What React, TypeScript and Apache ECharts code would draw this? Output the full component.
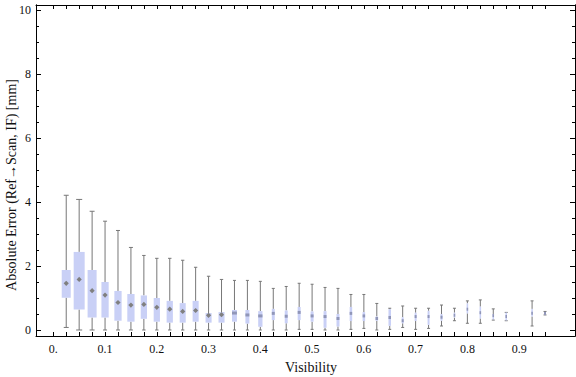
import React, { useEffect, useRef } from "react";
import * as echarts from "echarts";

// Bin centres (visibility)
const visibility = [0.025, 0.05, 0.075, 0.1, 0.125, 0.15, 0.175, 0.2, 0.225, 0.25, 0.275, 0.3, 0.325, 0.35, 0.375, 0.4, 0.425, 0.45, 0.475, 0.5, 0.525, 0.55, 0.575, 0.6, 0.625, 0.65, 0.675, 0.7, 0.725, 0.75, 0.775, 0.8, 0.825, 0.85, 0.875, 0.925, 0.95];
const whiskerLow = [0.08, 0, 0, 0, 0, 0, 0, 0, 0, 0, 0, 0, 0, 0, 0, 0, 0, 0, 0.02, 0.02, 0, 0, 0.02, 0.05, 0, 0.02, 0.08, 0.02, 0.05, 0.125, 0.29, 0.21, 0.21, 0.31, 0.29, 0.125, 0.47];
const quartile1 = [1.01, 0.64, 0.39, 0.39, 0.29, 0.26, 0.35, 0.26, 0.23, 0.23, 0.26, 0.23, 0.23, 0.26, 0.2, 0.1, 0.31, 0.21, 0.31, 0.26, 0.07, 0.11, 0.28, 0.28, 0.29, 0.13, 0.21, 0.28, 0.16, 0.29, 0.39, 0.52, 0.36, 0.33, 0.3, 0.42, 0.49];
const median = [1.46, 1.58, 1.23, 1.09, 0.86, 0.78, 0.8, 0.71, 0.65, 0.58, 0.61, 0.46, 0.48, 0.53, 0.47, 0.44, 0.52, 0.43, 0.55, 0.44, 0.42, 0.36, 0.52, 0.44, 0.36, 0.39, 0.29, 0.42, 0.42, 0.4, 0.46, 0.65, 0.54, 0.45, 0.42, 0.52, 0.52];
const quartile3 = [1.875, 2.44, 1.875, 1.5, 1.22, 1.125, 1.08, 1.0, 0.91, 0.84, 0.91, 0.53, 0.56, 0.625, 0.625, 0.59, 0.66, 0.61, 0.72, 0.58, 0.59, 0.5, 0.72, 0.56, 0.42, 0.65, 0.4, 0.54, 0.6, 0.5, 0.54, 0.83, 0.73, 0.5, 0.55, 0.66, 0.55];
const whiskerHigh = [4.21, 4.08, 3.71, 3.4, 3.11, 2.58, 2.33, 2.24, 2.24, 2.18, 1.96, 1.68, 1.58, 1.55, 1.55, 1.52, 1.3, 1.36, 1.46, 1.43, 1.33, 1.3, 1.11, 1.11, 0.83, 0.68, 0.75, 0.68, 0.68, 0.78, 0.68, 0.91, 0.94, 0.66, 0.55, 0.91, 0.58];
// Relative sample share of each bin (drives box width)
const sampleShare = [0.82, 1, 0.82, 0.66, 0.66, 0.66, 0.57, 0.57, 0.57, 0.55, 0.55, 0.55, 0.55, 0.45, 0.36, 0.39, 0.27, 0.27, 0.27, 0.27, 0.27, 0.27, 0.23, 0.23, 0.23, 0.23, 0.18, 0.18, 0.18, 0.18, 0.14, 0.14, 0.14, 0.14, 0.14, 0.14, 0.18];

const xTickLabels = [0, 0.1, 0.2, 0.3, 0.4, 0.5, 0.6, 0.7, 0.8, 0.9];
const xTickMarks = [0, 0.025, 0.05, 0.075, 0.1, 0.125, 0.15, 0.175, 0.2, 0.225, 0.25, 0.275, 0.3, 0.325, 0.35, 0.375, 0.4, 0.425, 0.45, 0.475, 0.5, 0.525, 0.55, 0.575, 0.6, 0.625, 0.65, 0.675, 0.7, 0.725, 0.75, 0.775, 0.8, 0.825, 0.85, 0.875, 0.9, 0.925, 0.95];
const yTickLabels = [0, 2, 4, 6, 8, 10];
const yMinorTicks = [0.5, 1, 1.5, 2.5, 3, 3.5, 4.5, 5, 5.5, 6.5, 7, 7.5, 8.5, 9, 9.5];

const xTitle = "Visibility";
const yTitle = "Absolute Error (Ref\u2192Scan, IF) [mm]";

const FONT = '"Liberation Serif", "Times New Roman", serif';
const BOX_COLOR = "#c9d0f6";
const WHISKER_COLOR = "#777777";
const MAX_BOX_PX = 11;

const X_MIN = -0.0334;
const X_MAX = 1.0079;
const Y_MIN = -0.1875;
const Y_MAX = 10.156;

function buildOption() {
  const rows = visibility.map((v, i) => [v, whiskerLow[i], quartile1[i], median[i], quartile3[i], whiskerHigh[i], sampleShare[i]]);
  const axisLine = { show: true, onZero: false, lineStyle: { color: "#000", width: 1 } };
  const baseX = (position: string, withLabels: boolean) => ({
    type: "value",
    position,
    min: X_MIN,
    max: X_MAX,
    axisLine,
    splitLine: { show: false },
    axisTick: { show: true, inside: true, length: 4, customValues: xTickMarks, lineStyle: { color: "#000" } },
    axisLabel: withLabels
      ? {
          show: true,
          customValues: xTickLabels,
          formatter: (v: number) => (v === 0 ? "0." : v.toFixed(1)),
          fontFamily: FONT,
          fontSize: 12,
          color: "#111",
          margin: 7,
        }
      : { show: false },
  });
  const baseY = (position: string, ticks: number[], len: number, withLabels: boolean) => ({
    type: "value",
    position,
    min: Y_MIN,
    max: Y_MAX,
    axisLine,
    splitLine: { show: false },
    axisTick: { show: true, inside: true, length: len, customValues: ticks, lineStyle: { color: "#000" } },
    axisLabel: withLabels
      ? { show: true, customValues: yTickLabels, fontFamily: FONT, fontSize: 12, color: "#111", margin: 5 }
      : { show: false },
  });

  return {
    animation: false,
    backgroundColor: "#ffffff",
    grid: { left: 36, top: 5, right: 1, bottom: 41, containLabel: false },
    xAxis: [baseX("bottom", true), baseX("top", false)],
    yAxis: [
      baseY("left", yTickLabels, 5, true),
      baseY("left", yMinorTicks, 3, false),
      baseY("right", yTickLabels, 5, false),
      baseY("right", yMinorTicks, 3, false),
    ],
    graphic: [
      {
        type: "text",
        x: 11,
        y: 185,
        rotation: Math.PI / 2,
        style: { text: yTitle, font: `14px ${FONT}`, fill: "#111", textAlign: "center", textVerticalAlign: "middle" },
      },
      {
        type: "text",
        x: 311,
        y: 367,
        style: { text: xTitle, font: `14px ${FONT}`, fill: "#111", textAlign: "center", textVerticalAlign: "middle" },
      },
    ],
    series: [
      {
        type: "custom",
        xAxisIndex: 0,
        yAxisIndex: 0,
        clip: false,
        encode: { x: 0, y: [1, 2, 3, 4, 5] },
        data: rows,
        renderItem: (params: any, api: any) => {
          const x = api.value(0);
          const pLo = api.coord([x, api.value(1)]);
          const pQ1 = api.coord([x, api.value(2)]);
          const pMed = api.coord([x, api.value(3)]);
          const pQ3 = api.coord([x, api.value(4)]);
          const pHi = api.coord([x, api.value(5)]);
          const w = MAX_BOX_PX * api.value(6);
          const cx = pLo[0];
          const cap = Math.max(3, w * 0.55);
          const lineStyle = { stroke: WHISKER_COLOR, lineWidth: 1 };
          const children: any[] = [
            { type: "line", shape: { x1: cx, y1: pHi[1], x2: cx, y2: pQ3[1] }, style: lineStyle },
            { type: "line", shape: { x1: cx, y1: pQ1[1], x2: cx, y2: pLo[1] }, style: lineStyle },
            { type: "line", shape: { x1: cx - cap / 2, y1: pHi[1], x2: cx + cap / 2, y2: pHi[1] }, style: lineStyle },
            { type: "line", shape: { x1: cx - cap / 2, y1: pLo[1], x2: cx + cap / 2, y2: pLo[1] }, style: lineStyle },
            {
              type: "rect",
              shape: { x: cx - w / 2, y: pQ3[1], width: w, height: Math.max(1, pQ1[1] - pQ3[1]) },
              style: { fill: BOX_COLOR },
            },
          ];
          if (w >= 5) {
            const r = 2.6;
            children.push({
              type: "polygon",
              shape: { points: [[cx, pMed[1] - r], [cx + r, pMed[1]], [cx, pMed[1] + r], [cx - r, pMed[1]]] },
              style: { fill: "#808080" },
            });
          } else {
            children.push({
              type: "rect",
              shape: { x: cx - w / 2, y: pMed[1] - 1.5, width: w, height: 3 },
              style: { fill: "#9096b8" },
            });
          }
          return { type: "group", children };
        },
      },
    ],
  };
}

export default function App() {
  const ref = useRef<HTMLDivElement>(null);
  useEffect(() => {
    if (!ref.current) return;
    const chart = echarts.init(ref.current, null, { renderer: "svg" });
    chart.setOption(buildOption() as any);
    return () => chart.dispose();
  }, []);
  return <div ref={ref} style={{ position: "absolute", left: 0, top: 0, width: 576, height: 377 }} />;
}
